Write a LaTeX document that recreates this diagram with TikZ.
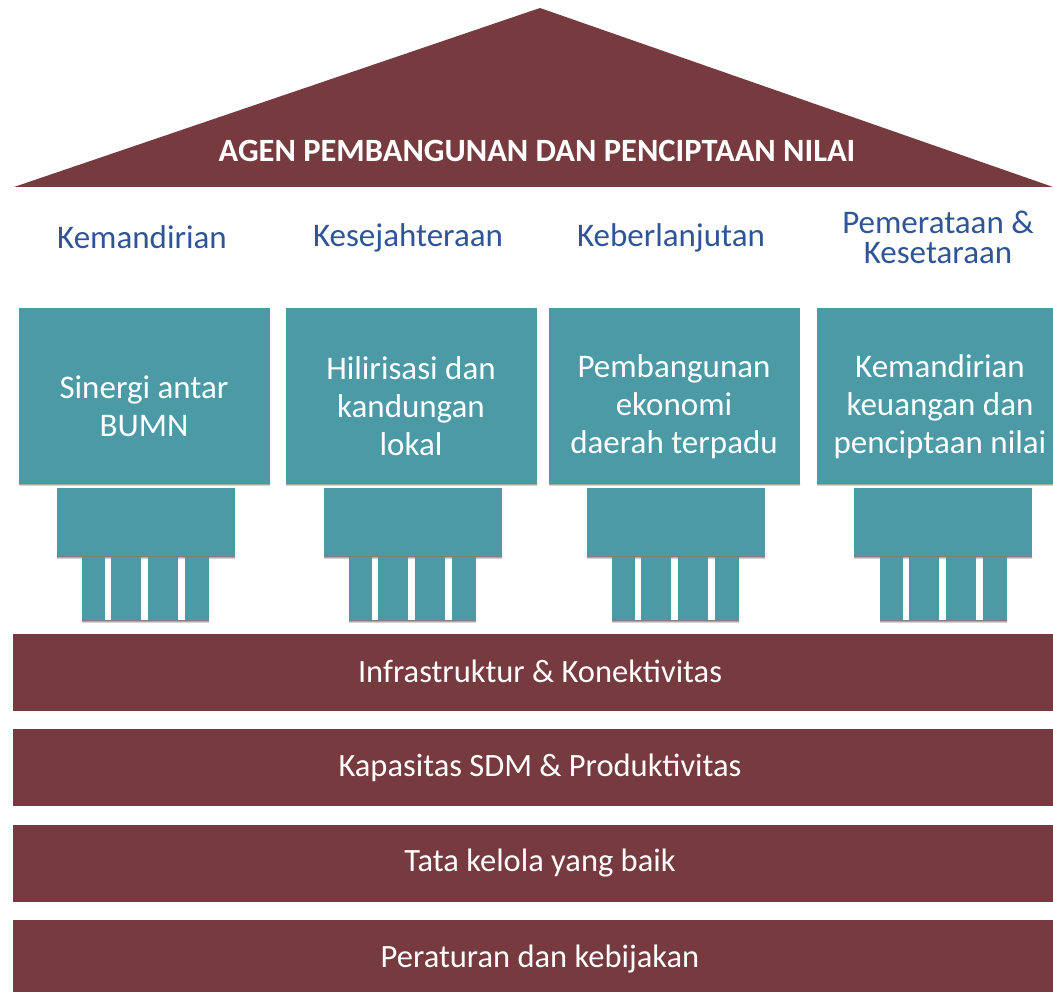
\documentclass[tikz,border=0pt]{standalone}
\usepackage{fontspec}
\setmainfont{Carlito}
\definecolor{maroon}{HTML}{763A3F}
\definecolor{teal2}{HTML}{4C9AA5}
\definecolor{headblue}{HTML}{2F5597}
\definecolor{shade}{HTML}{EEEEEE}
\begin{document}
\begin{tikzpicture}[x=1pt,y=-1pt,
  bandtext/.style={text=white,font=\fontsize{32.5}{36}\selectfont},
  boxtext/.style={text=white,font=\fontsize{33}{38}\selectfont,align=center},
  headtext/.style={text=headblue,font=\fontsize{33}{30}\selectfont,align=center}]
\useasboundingbox (0,0) rectangle (1053,992);
% roof
\fill[maroon] (14,187) -- (540,8) -- (1053,187) -- cycle;
\node[text=white,font=\bfseries\fontsize{32.5}{34}\selectfont] (roof) at (537,151) {AGEN PEMBANGUNAN DAN PENCIPTAAN NILAI};
% headings
\node[headtext] (h1) at (142,237) {Kemandirian};
\node[headtext] (h2) at (408,238) {Kesejahteraan};
\node[headtext] (h3) at (671,238) {Keberlanjutan};
\node[headtext] (h4) at (938,237) {Pemerataan \&\\Kesetaraan};
% column boxes
\foreach \x/\w/\n in {19/251/1,286/251/2,549/251/3,817/236/4}{
  \fill[shade] (\x,483) rectangle ++(\w,3);
  \fill[teal2] (\x,308) rectangle ++(\w,175);
}
\node[boxtext] (b1) at (144,406) {Sinergi antar\\BUMN};
\node[boxtext] (b2) at (411,406) {Hilirisasi dan\\kandungan\\lokal};
\node[boxtext] (b3) at (674,407) {Pembangunan\\ekonomi\\daerah terpadu};
\node[boxtext] (b4) at (940,407) {Kemandirian\\keuangan dan\\penciptaan nilai};
% capitals and pillars
\foreach \c/\p in {57/82,324/349,587/612,854/880}{
  \fill[shade] (\c,556) rectangle ++(178,3);
  \fill[teal2] (\c,488) rectangle ++(178,68);
  \fill[shade] (\p,620) rectangle ++(127,3);
  \fill[teal2] (\p,557) rectangle ++(23,63);
  \fill[teal2] (\p+29,557) rectangle ++(30,63);
  \fill[teal2] (\p+66,557) rectangle ++(30,63);
  \fill[teal2] (\p+103,557) rectangle ++(24,63);
}
% bands
\fill[maroon] (13,634) rectangle (1053,711);
\node[bandtext] (f1) at (540,671) {Infrastruktur \& Konektivitas};
\fill[maroon] (13,729) rectangle (1053,806);
\node[bandtext] (f2) at (540,768) {Kapasitas SDM \& Produktivitas};
\fill[maroon] (13,825) rectangle (1053,902);
\node[bandtext] (f3) at (540,863) {Tata kelola yang baik};
\fill[maroon] (13,920) rectangle (1053,992);
\node[bandtext] (f4) at (540,959) {Peraturan dan kebijakan};
\end{tikzpicture}
\end{document}
